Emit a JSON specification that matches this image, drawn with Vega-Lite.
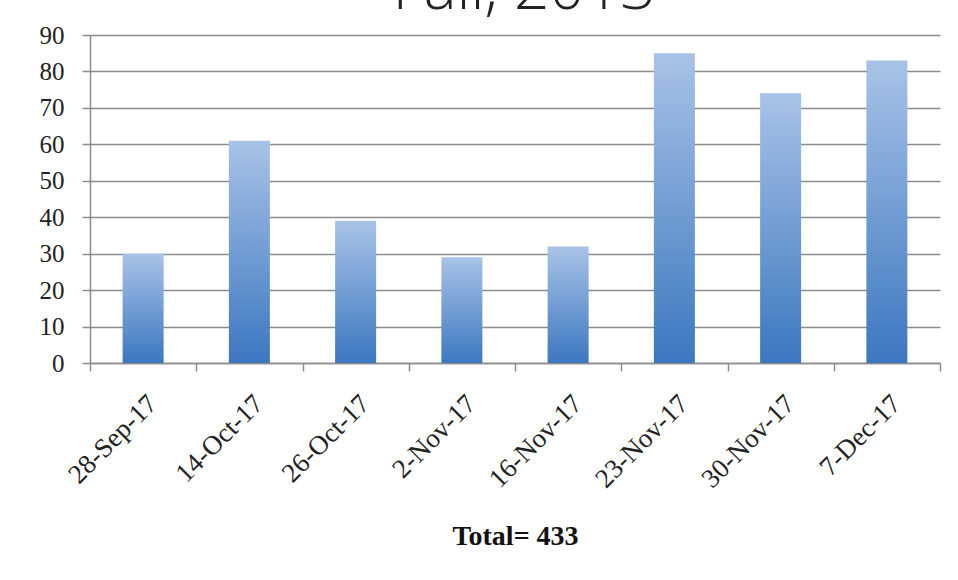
{
  "$schema": "https://vega.github.io/schema/vega-lite/v6.json",
  "autosize": {"type": "none"},
  "width": 850,
  "height": 328,
  "padding": {"left": 90, "top": 35, "right": 18, "bottom": 217},
  "background": "white",
  "title": {
    "text": "Fall, 2013",
    "font": "Open Sans",
    "fontSize": 62,
    "fontWeight": 300,
    "color": "#222222",
    "baseline": "alphabetic",
    "offset": -48,
    "dx": 9,
    "anchor": "middle"
  },
  "data": {
    "values": [
      {"date": "28-Sep-17", "count": 30},
      {"date": "14-Oct-17", "count": 61},
      {"date": "26-Oct-17", "count": 39},
      {"date": "2-Nov-17", "count": 29},
      {"date": "16-Nov-17", "count": 32},
      {"date": "23-Nov-17", "count": 85},
      {"date": "30-Nov-17", "count": 74},
      {"date": "7-Dec-17", "count": 83}
    ]
  },
  "mark": {
    "type": "bar",
    "width": {"band": 0.386},
    "color": {
      "gradient": "linear",
      "x1": 0, "y1": 0, "x2": 0, "y2": 1,
      "stops": [
        {"offset": 0, "color": "#a8c3e7"},
        {"offset": 1, "color": "#3c77c0"}
      ]
    }
  },
  "encoding": {
    "x": {
      "field": "date",
      "type": "nominal",
      "sort": null,
      "scale": {"paddingInner": 0, "paddingOuter": 0},
      "axis": {
        "title": "Total= 433",
        "titleFont": "Liberation Serif",
        "titleFontSize": 28,
        "titleFontWeight": "bold",
        "titleColor": "#111111",
        "titlePadding": 30,
        "labelAngle": -45,
        "labelFont": "Liberation Serif",
        "labelFontSize": 27,
        "labelColor": "#222222",
        "labelPadding": 19,
        "tickBand": "extent",
        "tickSize": 8,
        "tickColor": "#8c8c8c",
        "tickWidth": 1.5,
        "domainColor": "#8c8c8c",
        "domainWidth": 1.5,
        "grid": false
      }
    },
    "y": {
      "field": "count",
      "type": "quantitative",
      "scale": {"domain": [0, 90]},
      "axis": {
        "title": null,
        "values": [0, 10, 20, 30, 40, 50, 60, 70, 80, 90],
        "labelFont": "Liberation Serif",
        "labelFontSize": 25,
        "labelColor": "#222222",
        "labelPadding": 18,
        "tickSize": 8,
        "tickColor": "#8c8c8c",
        "tickWidth": 1.5,
        "domainColor": "#8c8c8c",
        "domainWidth": 1.5,
        "grid": true,
        "gridColor": "#8c8c8c",
        "gridWidth": 1.5
      }
    }
  },
  "config": {
    "view": {"stroke": null}
  }
}
